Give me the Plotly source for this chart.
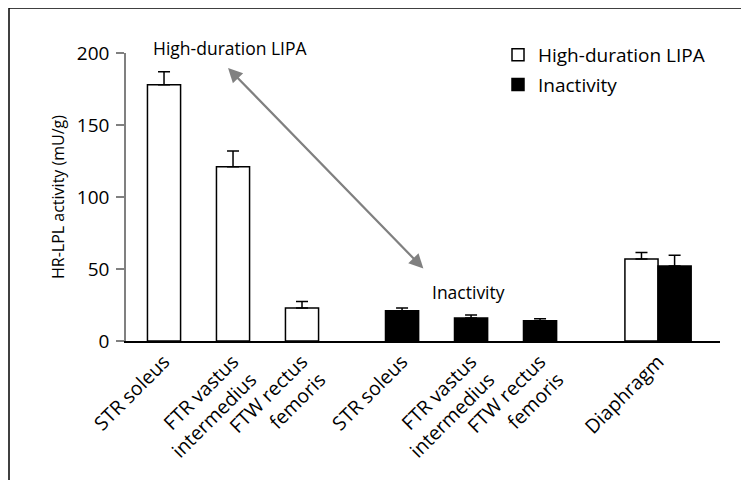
import plotly.graph_objects as go

# ---- data ----
muscles = ["STR soleus", "FTR vastus<br>intermedius", "FTW rectus<br>femoris"]
lipa_values = [178, 121, 23]
lipa_errors = [9, 11, 4.5]
inact_values = [21, 16, 14]
inact_errors = [2, 2, 1.5]
diaphragm_label = "Diaphragm"
diaphragm_lipa = 57
diaphragm_lipa_err = 4.5
diaphragm_inact = 52
diaphragm_inact_err = 7.5
y_ticks = [0, 50, 100, 150, 200]

# ---- layout constants (category slot positions) ----
group2_start = 3.45
diaphragm_pos = 7.16
bar_w = 0.48

pos1 = [i for i in range(len(muscles))]
pos2 = [group2_start + i for i in range(len(muscles))]

FONT = "Open Sans"
OFF = 8  # page body margin in the browser

# plot area in page pixels: x 126..720, y 53..341
W, H = 749 - OFF, 480 - OFF
L, T = 126 - OFF, 53 - OFF
R = W - (720 - OFF)
B = H - (341 - OFF)
PW, PH = W - L - R, H - T - B


def px(xpage):
    return (xpage - OFF - L) / PW


def py(ypage):
    return (H - B - (ypage - OFF)) / PH


fig = go.Figure()

fig.add_trace(go.Bar(
    x=pos1 + [diaphragm_pos - bar_w / 2], y=lipa_values + [diaphragm_lipa],
    width=bar_w, name="High-duration LIPA", legendgroup="a",
    marker=dict(color="white", line=dict(color="black", width=1.5)),
    error_y=dict(type="data", symmetric=False, array=lipa_errors + [diaphragm_lipa_err],
                 arrayminus=[0] * 4, color="black", thickness=1.5, width=6),
))
fig.add_trace(go.Bar(
    x=pos2 + [diaphragm_pos + bar_w / 2], y=inact_values + [diaphragm_inact],
    width=bar_w, name="Inactivity", legendgroup="b",
    marker=dict(color="black", line=dict(color="black", width=1.5)),
    error_y=dict(type="data", symmetric=False, array=inact_errors + [diaphragm_inact_err],
                 arrayminus=[0] * 4, color="black", thickness=1.5, width=6),
))

tickvals = pos1 + pos2 + [diaphragm_pos]
ticktext = muscles + muscles + [diaphragm_label]

fig.update_layout(
    width=W, height=H,
    margin=dict(l=L, r=R, t=T, b=B),
    paper_bgcolor="white", plot_bgcolor="white",
    font=dict(family=FONT, size=18, color="black"),
    barmode="overlay",
    showlegend=True,
    legend=dict(x=px(498), y=py(36), xanchor="left", yanchor="top",
                font=dict(size=19, family=FONT), bgcolor="rgba(0,0,0,0)",
                traceorder="grouped", tracegroupgap=2, itemwidth=30),
    xaxis=dict(range=[-0.551, 8.058], tickvals=tickvals, ticktext=ticktext,
               tickangle=-45, showgrid=False, zeroline=False,
               showline=True, linecolor="black", linewidth=1.5,
               ticks="", tickfont=dict(size=19.5, family=FONT)),
    yaxis=dict(range=[0, 200], tickvals=y_ticks, showgrid=False, zeroline=False,
               showline=True, linecolor="#808080", linewidth=1.5,
               ticks="outside", ticklen=8, tickcolor="#808080", tickwidth=1.5,
               ticklabelstandoff=3,
               tickfont=dict(size=19, family=FONT),
               title=dict(text="HR-LPL activity (mU/g)", font=dict(size=16, family=FONT),
                          standoff=8)),
)

# Annotations
fig.add_annotation(x=0.957, y=py(48), yref="paper", yanchor="middle",
                   text="High-duration LIPA",
                   showarrow=False, font=dict(size=17.5, family=FONT))
fig.add_annotation(x=4.42, y=34, text="Inactivity", showarrow=False,
                   font=dict(size=17.5, family=FONT))
fig.add_annotation(x=0.928, y=189.6, ax=3.78, ay=49.3, axref="x", ayref="y",
                   text="", showarrow=True, arrowhead=2, arrowside="end+start",
                   arrowsize=1.3, arrowwidth=2.2, arrowcolor="#808080")

# Frame (top and left borders of the figure box)
fig.add_shape(type="line", xref="paper", yref="paper", x0=px(9), x1=px(760),
              y0=py(8), y1=py(8), line=dict(color="black", width=1.5))
fig.add_shape(type="line", xref="paper", yref="paper", x0=px(9), x1=px(9),
              y0=py(8), y1=py(500), line=dict(color="black", width=1.5))

fig.write_html("out.html")
